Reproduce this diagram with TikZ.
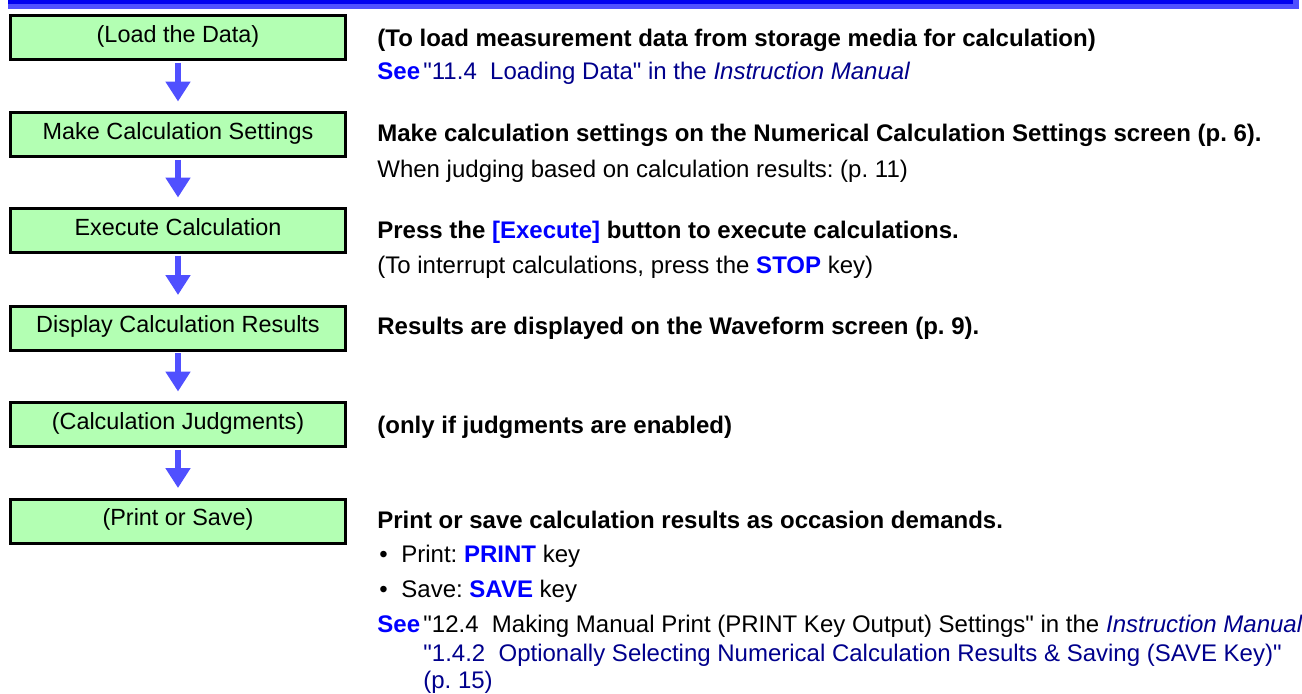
\documentclass[tikz,border=0pt]{standalone}
\usepackage{fontspec}
\setmainfont{Liberation Sans}[Ligatures=TeXOff]
\usetikzlibrary{arrows.meta}
\frenchspacing
\definecolor{boxgreen}{RGB}{179,255,179}
\definecolor{arrowblue}{RGB}{80,80,255}
\definecolor{barblue}{RGB}{0,0,240}
\definecolor{keyblue}{RGB}{0,0,255}
\definecolor{refblue}{RGB}{0,0,140}
\newcommand{\key}[1]{{\color{keyblue}\bfseries #1}}
\newcommand{\manual}{{\color{refblue}\itshape Instruction Manual}}
\tikzset{
  stepbox/.style={draw, line width=1.5pt, fill=boxgreen, minimum width=167.5pt, minimum height=22pt,
    inner sep=0pt, font=\fontsize{11.7}{13}\selectfont, text height=8pt, text depth=3.2pt},
  flowarrow/.style={arrowblue, line width=3pt, -{Triangle[width=12pt,length=10pt]},
    shorten <=0.75pt, shorten >=4.75pt},
  note/.style={anchor=base west, inner sep=0pt, font=\fontsize{12}{14}\selectfont},
  boldnote/.style={note, font=\fontsize{12}{14}\selectfont\bfseries},
}
\begin{document}
\frenchspacing
\begin{tikzpicture}[x=0.5pt,y=-0.5pt]
\useasboundingbox (0,0) rectangle (1302,693);
% title bar
\fill [arrowblue] (8,0) rectangle (1299,9);
\fill [barblue] (8,0) rectangle (1293,4);

\node [stepbox] (load) at (178,37.5) {(Load the Data)};
\node [stepbox] (settings) at (178,134.5) {Make Calculation Settings};
\node [stepbox] (execute) at (178,230.5) {Execute Calculation};
\node [stepbox] (display) at (178,328) {Display Calculation Results};
\node [stepbox] (judge) at (178,424.5) {(Calculation Judgments)};
\node [stepbox] (output) at (178,521) {(Print or Save)};

\draw [flowarrow] (load) -- (settings);
\draw [flowarrow] (settings) -- (execute);
\draw [flowarrow] (execute) -- (display);
\draw [flowarrow] (display) -- (judge);
\draw [flowarrow] (judge) -- (output);

\node [boldnote] (loadtitle) at (377,46) {(To load measurement data from storage media for calculation)};
\node [note] (loadsee) at (377,79) {\key{See}};
\node [note] (loadref) at (423,79) {\color{refblue}"11.4\ \ Loading Data" in the \textit{Instruction Manual}};

\node [boldnote] (settitle) at (377,141) {Make calculation settings on the Numerical Calculation Settings screen (p. 6).};
\node [note] (setjudge) at (377,177) {When judging based on calculation results: (p. 11)};

\node [boldnote] (exectitle) at (377,238) {Press the \key{[Execute]} button to execute calculations.};
\node [note] (execstop) at (377,273) {(To interrupt calculations, press the \key{STOP} key)};

\node [boldnote] (disptitle) at (377,334) {Results are displayed on the Waveform screen (p. 9).};

\node [boldnote] (judgetitle) at (377,433) {(only if judgments are enabled)};

\node [boldnote] (outtitle) at (377,528) {Print or save calculation results as occasion demands.};
\node [note] (bulletA) at (379,562) {\textbullet};
\node [note] (outprint) at (401,562) {Print: \key{PRINT} key};
\node [note] (bulletB) at (379,597) {\textbullet};
\node [note] (outsave) at (401,597) {Save: \key{SAVE} key};
\node [note] (outsee) at (377,632) {\key{See}};
\node [note] (outrefA) at (423,632) {"12.4\ \ Making Manual Print (PRINT Key Output) Settings" in the \manual};
\node [note] (outrefB) at (423,661) {\color{refblue}"1.4.2\ \ Optionally Selecting Numerical Calculation Results \& Saving (SAVE Key)"};
\node [note] (outrefC) at (423,688) {\color{refblue}(p. 15)};
\end{tikzpicture}
\end{document}
